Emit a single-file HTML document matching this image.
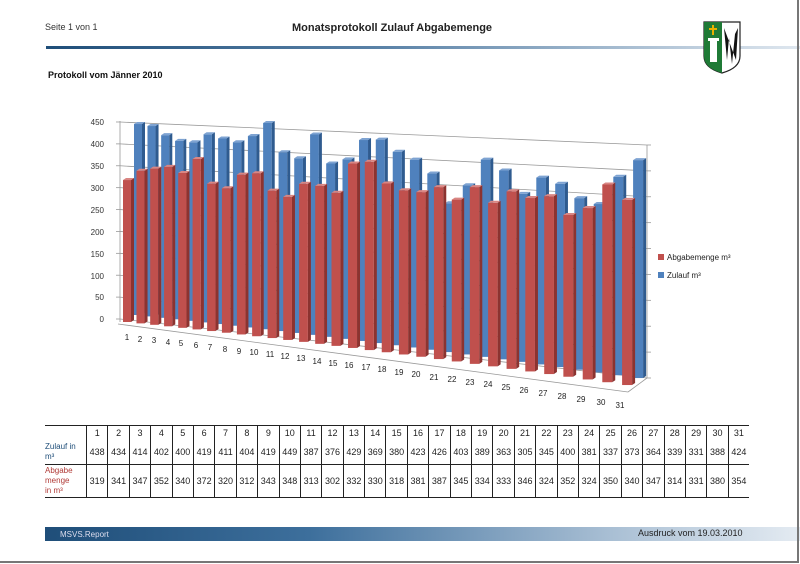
<!DOCTYPE html>
<html><head><meta charset="utf-8"><style>
body{margin:0;width:800px;height:564px;background:#fff;position:relative;overflow:hidden;font-family:"Liberation Sans",sans-serif}
.a{position:absolute;white-space:nowrap}
table{position:absolute;left:45px;top:425px;border-collapse:collapse;font-size:9px;color:#222}
</style></head><body>
<div class="a" style="left:45px;top:22px;font-size:9px;color:#333">Seite 1 von 1</div>
<div class="a" style="left:292px;top:22px;font-size:11px;font-weight:bold;color:#222">Monatsprotokoll Zulauf Abgabemenge</div>
<div class="a" style="left:46px;top:46px;width:754px;height:3px;background:linear-gradient(90deg,#1f4e79,#5b83a8 45%,#dfe7ef)"></div>
<div class="a" style="left:48px;top:70px;font-size:9px;font-weight:bold;color:#111">Protokoll vom Jänner 2010</div>
<svg class="a" style="left:700px;top:20px" width="45" height="55" viewBox="0 0 45 55">
<path d="M4 2H40V36Q40 48 22 53Q4 48 4 36Z" fill="#fff" stroke="#222" stroke-width="1.2"/>
<path d="M4 2H22V53Q4 48 4 36Z" fill="#1f7a36"/>
<rect x="10" y="20" width="7" height="22" fill="#fff"/><rect x="8" y="18" width="11" height="3" fill="#fff"/>
<rect x="12" y="5" width="2" height="10" fill="#e8b000"/><rect x="9" y="8" width="8" height="2" fill="#e8b000"/>
<path d="M24 8L27 40L29 18L32 44L35 14L38 8L36 40Z" fill="#111"/>
</svg>
<svg class="a" style="left:0;top:0" width="800" height="564" id="ch">
<g stroke="#999" stroke-width="0.8" id="grid"></g>
<g id="bars"></g>
<g font-size="8" fill="#333" text-anchor="end">
<text x="104" y="125">450</text><text x="104" y="147">400</text><text x="104" y="169">350</text><text x="104" y="191">300</text><text x="104" y="213">250</text><text x="104" y="235">200</text><text x="104" y="257">150</text><text x="104" y="279">100</text><text x="104" y="300">50</text><text x="104" y="322">0</text>
</g>
<g font-size="8" fill="#222" text-anchor="middle">
<text x="127" y="340">1</text><text x="140" y="342">2</text><text x="154" y="343">3</text><text x="168" y="345">4</text><text x="181" y="346">5</text><text x="196" y="348">6</text><text x="210" y="350">7</text><text x="225" y="352">8</text><text x="239" y="354">9</text><text x="254" y="355">10</text><text x="270" y="357">11</text><text x="285" y="359">12</text><text x="301" y="361">13</text><text x="317" y="364">14</text><text x="333" y="366">15</text><text x="349" y="368">16</text><text x="366" y="370">17</text><text x="382" y="372">18</text><text x="399" y="375">19</text><text x="416" y="377">20</text><text x="434" y="380">21</text><text x="452" y="382">22</text><text x="470" y="385">23</text><text x="488" y="387">24</text><text x="506" y="390">25</text><text x="524" y="393">26</text><text x="543" y="396">27</text><text x="562" y="399">28</text><text x="581" y="402">29</text><text x="601" y="405">30</text><text x="620" y="408">31</text>
</g>
<rect x="658" y="254" width="6" height="6" fill="#c0504d"/><text x="667" y="260" font-size="8" fill="#222">Abgabemenge m³</text>
<rect x="658" y="272" width="6" height="6" fill="#4f81bd"/><text x="667" y="278" font-size="8" fill="#222">Zulauf m³</text>
</svg>
<table>
<tr style="height:15px;border-top:1px solid #222"><td style="width:40px"></td>
<td>1</td><td>2</td><td>3</td><td>4</td><td>5</td><td>6</td><td>7</td><td>8</td><td>9</td><td>10</td><td>11</td><td>12</td><td>13</td><td>14</td><td>15</td><td>16</td><td>17</td><td>18</td><td>19</td><td>20</td><td>21</td><td>22</td><td>23</td><td>24</td><td>25</td><td>26</td><td>27</td><td>28</td><td>29</td><td>30</td><td>31</td></tr>
<tr style="height:24px;border-bottom:1px solid #222"><td style="color:#1f4e79;font-size:8px;line-height:10px">Zulauf in<br>m³</td>
<td>438</td><td>434</td><td>414</td><td>402</td><td>400</td><td>419</td><td>411</td><td>404</td><td>419</td><td>449</td><td>387</td><td>376</td><td>429</td><td>369</td><td>380</td><td>423</td><td>426</td><td>403</td><td>389</td><td>363</td><td>305</td><td>345</td><td>400</td><td>381</td><td>337</td><td>373</td><td>364</td><td>339</td><td>331</td><td>388</td><td>424</td></tr>
<tr style="height:33px;border-bottom:1px solid #222"><td style="color:#b03a36;font-size:8px;line-height:10px">Abgabe<br>menge<br>in m³</td>
<td>319</td><td>341</td><td>347</td><td>352</td><td>340</td><td>372</td><td>320</td><td>312</td><td>343</td><td>348</td><td>313</td><td>302</td><td>332</td><td>330</td><td>318</td><td>381</td><td>387</td><td>345</td><td>334</td><td>333</td><td>346</td><td>324</td><td>352</td><td>324</td><td>350</td><td>340</td><td>347</td><td>314</td><td>331</td><td>380</td><td>354</td></tr>
</table>
<div class="a" style="left:45px;top:527px;width:755px;height:14px;background:linear-gradient(90deg,#1f4e79,#3d6f9c 35%,#a9bfd4 75%,#e4ebf2)"></div>
<div class="a" style="left:60px;top:530px;font-size:8px;color:#dde">MSVS.Report</div>
<div class="a" style="left:638px;top:528px;font-size:9px;color:#222">Ausdruck vom 19.03.2010</div>
<div class="a" style="left:797px;top:0;width:2px;height:563px;background:#777"></div>
<div class="a" style="left:0;top:561px;width:799px;height:2px;background:#777"></div>
<script>
(function(){
var Z=[438,434,414,402,400,419,411,404,419,449,387,376,429,369,380,423,426,403,389,363,305,345,400,381,337,373,364,339,331,388,424];
var A=[319,341,347,352,340,372,320,312,343,348,313,302,332,330,318,381,387,345,334,333,346,324,352,324,350,340,347,314,331,380,354];
var ns="http://www.w3.org/2000/svg",g=document.getElementById('grid'),b=document.getElementById('bars');
function el(p,t,a){var e=document.createElementNS(ns,t);for(var k in a)e.setAttribute(k,a[k]);p.appendChild(e);return e;}
for(var v=0;v<=450;v+=50){var yl=319-v*0.4378,yr=378-v*0.5178;el(g,'line',{x1:120,y1:yl,x2:647,y2:yr});el(g,'line',{x1:116,y1:yl,x2:120,y2:yl});el(g,'line',{x1:647,y1:yr,x2:651,y2:yr});}
el(g,'line',{x1:120,y1:121,x2:120,y2:322});el(g,'line',{x1:647,y1:145,x2:647,y2:378});
el(g,'line',{x1:118,y1:324,x2:628,y2:392});el(g,'line',{x1:628,y1:392,x2:647,y2:378});
function xc(i){return 127+13.4*i+0.109*i*i;}
function yo(i){return (1.467*i+0.0267*i*i)*63/68;}
function bar(x,w,bot,h,c1,c2,c3){
 el(b,'rect',{x:x,y:bot-h,width:w,height:h,fill:c1});
 el(b,'polygon',{points:(x+w)+','+(bot-h)+' '+(x+w+3)+','+(bot-h-2)+' '+(x+w+3)+','+(bot-2)+' '+(x+w)+','+bot,fill:c2});
 el(b,'polygon',{points:x+','+(bot-h)+' '+(x+3)+','+(bot-h-2)+' '+(x+w+3)+','+(bot-h-2)+' '+(x+w)+','+(bot-h),fill:c3});
}
for(var i=0;i<31;i++){var t=i/30,w=8+2*t,s=0.436+0.078*t;bar(xc(i)+11-w/2,w,315+yo(i),Z[i]*s,'#4f81bd','#2f5b8f','#7ea3d2');}
for(var i=0;i<31;i++){var t=i/30,w=8+2*t,s=0.445+0.078*t;bar(xc(i)-w/2,w,322+yo(i),A[i]*s,'#c0504d','#8c3330','#d98683');}
})();
</script>
<style>td{text-align:center;border-left:1px solid #222;padding:0;width:20.4px}tr td:first-child{border-left:none;text-align:left;width:41px}</style>
</body></html>
